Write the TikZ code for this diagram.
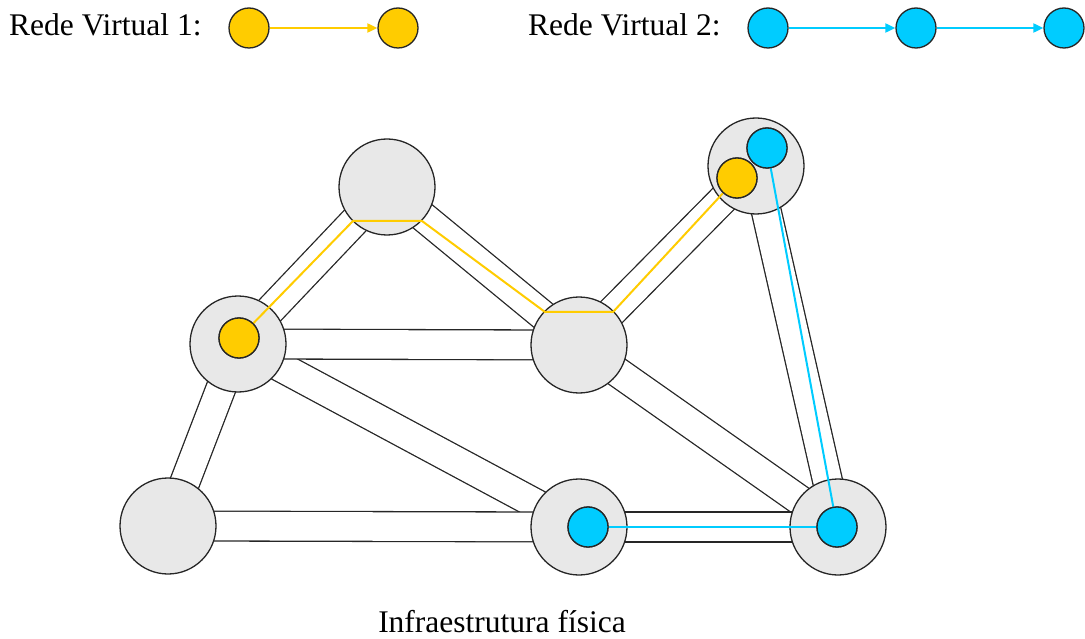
\documentclass[tikz,border=0pt]{standalone}
\usepackage{fontspec}
\setmainfont{Liberation Serif}
\usetikzlibrary{calc,arrows.meta}
\definecolor{ylw}{HTML}{FFCC00}
\definecolor{cyn}{HTML}{00CCFF}
\definecolor{phys}{HTML}{E8E8E8}
\definecolor{edge}{HTML}{262626}
\tikzset{
  pnode/.style={circle,draw=edge,line width=1.3pt,fill=phys,minimum size=96pt,inner sep=0pt},
  ynode/.style={circle,draw=edge,line width=1.3pt,fill=ylw,minimum size=40pt,inner sep=0pt},
  cnode/.style={circle,draw=edge,line width=1.3pt,fill=cyn,minimum size=40pt,inner sep=0pt},
  link/.style={draw=edge,line width=1.3pt,double=white,double distance=28.5pt},
  ypath/.style={draw=ylw,line width=2pt},
  cpath/.style={draw=cyn,line width=2pt},
  lbl/.style={font=\fontsize{31.5}{36}\selectfont,inner sep=0pt}
}
\begin{document}
\begin{tikzpicture}[x=1pt,y=-1pt]
\useasboundingbox (0,0) rectangle (1085,639);
% legend
\node[lbl,anchor=base west] (t1) at (9,36) {Rede Virtual 1:};
\node[ynode] (l1a) at (249,28) {};
\node[ynode] (l1b) at (398,28) {};
\draw[ypath,-{Triangle[length=10pt,width=9pt]}] (l1a) -- (l1b);
\node[lbl,anchor=base west] (t2) at (528,36) {Rede Virtual 2:};
\node[cnode] (l2a) at (768,28) {};
\node[cnode] (l2b) at (916,28) {};
\node[cnode] (l2c) at (1064,28) {};
\draw[cpath,-{Triangle[length=10pt,width=9pt]}] (l2a) -- (l2b);
\draw[cpath,-{Triangle[length=10pt,width=9pt]}] (l2b) -- (l2c);
% physical node positions
\coordinate (Ac) at (387,187);
\coordinate (Bc) at (238,344);
\coordinate (Cc) at (579,345);
\coordinate (Dc) at (756,166);
\coordinate (Ec) at (168,526);
\coordinate (Fc) at (579,527);
\coordinate (Gc) at (838,527);
% links
\draw[link] (Ac) -- (Bc);
\draw[link] (Ac) -- (Cc);
\draw[link] (Bc) -- (Ec);
\draw[link] (Bc) -- (Fc);
\draw[link] (Bc) -- (Cc);
\draw[link] (Cc) -- (Dc);
\draw[link] (Cc) -- (Gc);
\draw[link] (Dc) -- (Gc);
\draw[link] (Ec) -- (Fc);
\draw[link] (Fc) -- (Gc);
% physical nodes
\node[pnode] (A) at (Ac) {};
\node[pnode] (B) at (Bc) {};
\node[pnode] (C) at (Cc) {};
\node[pnode] (D) at (Dc) {};
\node[pnode] (E) at (Ec) {};
\node[pnode] (F) at (Fc) {};
\node[pnode] (G) at (Gc) {};
% virtual nodes
\node[ynode] (yB) at (239,338) {};
\node[ynode] (yD) at (737,178) {};
\node[cnode] (cD) at (767,148) {};
\node[cnode] (cF) at (588,527) {};
\node[cnode] (cG) at (837,527) {};
% yellow virtual path
\coordinate (pAB) at (353,221);
\coordinate (pAC) at (422,221);
\coordinate (pCA) at (545,312);
\coordinate (pCD) at (613,312);
\draw[ypath] (yB) -- (pAB) -- (pAC) -- (pCA) -- (pCD) -- (yD);
% cyan virtual path
\draw[cpath] (cD) -- (cG);
\draw[cpath] (cF) -- (cG);
% redraw virtual nodes on top
\node[ynode] at (yB) {};
\node[ynode] at (yD) {};
\node[cnode] at (cD) {};
\node[cnode] at (cF) {};
\node[cnode] at (cG) {};
% caption
\node[lbl,anchor=base] (cap) at (502,632) {Infraestrutura física};
\end{tikzpicture}
\end{document}
